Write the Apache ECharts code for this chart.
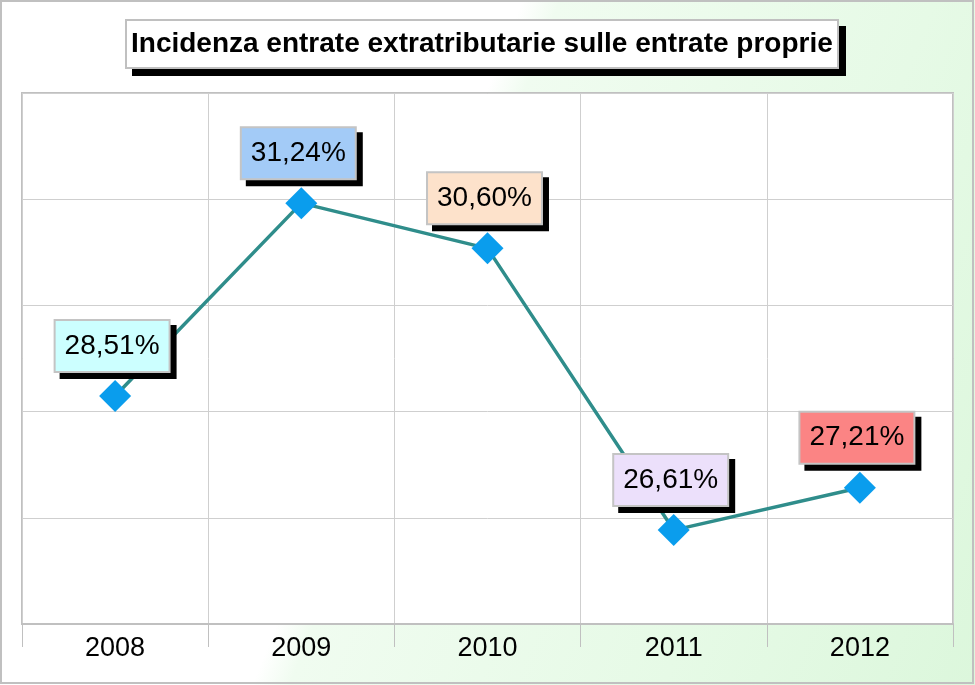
<!DOCTYPE html>
<html>
<head>
<meta charset="utf-8">
<script src="https://cdn.jsdelivr.net/npm/echarts@6/dist/echarts.min.js"></script>
<style>
  html, body { margin: 0; padding: 0; background: #fff; }
  #main { width: 975px; height: 685px; }
</style>
</head>
<body>
<div id="main"></div>
<script>
const years = ['2008', '2009', '2010', '2011', '2012'];
const values = [28.51, 31.24, 30.60, 26.61, 27.21];
const labelColors = ['#ccffff', '#a3cbf7', '#fde2cb', '#ece0fb', '#fb8484'];

const FONT = 'Liberation Sans, Arial, sans-serif';
const TITLE = 'Incidenza entrate extratributarie sulle entrate proprie';

const fmt = p => p.value.toFixed(2).replace('.', ',') + '%';

// label box look shared by the shadow copy and the real label
const labelBase = {
  show: true,
  position: 'top',
  distance: 9,
  formatter: fmt,
  fontFamily: FONT,
  fontSize: 28,
  lineHeight: 32,
  padding: [9, 9, 9, 9],
  borderWidth: 2
};

const chart = echarts.init(document.getElementById('main'));
chart.setOption({
  backgroundColor: new echarts.graphic.LinearGradient(0, 0, 1077, 425, [
    { offset: 0, color: '#ffffff' },
    { offset: 0.42, color: '#ffffff' },
    { offset: 0.45, color: '#f0fcf0' },
    { offset: 0.75, color: '#e6fae6' },
    { offset: 1, color: '#dcf7dc' }
  ], true),
  animation: false,
  title: [{
    // black drop shadow of the title box
    text: TITLE,
    left: 133,
    top: 27,
    padding: [9, 5],
    backgroundColor: '#000',
    borderColor: '#000',
    borderWidth: 2,
    textStyle: { fontFamily: FONT, fontSize: 28, fontWeight: 'bold', color: 'rgba(0,0,0,0)', lineHeight: 30 }
  }, {
    text: TITLE,
    left: 126,
    top: 20,
    padding: [9, 5],
    backgroundColor: '#ffffff',
    borderColor: '#c0c0c0',
    borderWidth: 2,
    textStyle: { fontFamily: FONT, fontSize: 28, fontWeight: 'bold', color: '#000', lineHeight: 30 }
  }],
  graphic: [{
    type: 'rect',
    shape: { x: 1, y: 1, width: 972, height: 682 },
    style: { fill: 'none', stroke: '#c0c0c0', lineWidth: 2 },
    silent: true
  }],
  grid: {
    left: 22,
    right: 22,
    top: 93,
    bottom: 61,
    show: true,
    backgroundColor: '#ffffff',
    borderColor: '#c0c0c0',
    borderWidth: 2
  },
  xAxis: {
    type: 'category',
    data: years,
    boundaryGap: true,
    axisLine: { lineStyle: { color: '#c0c0c0', width: 2 } },
    axisTick: { show: true, length: 23, interval: 0, lineStyle: { color: '#c0c0c0', width: 1 } },
    axisLabel: { color: '#000', fontFamily: FONT, fontSize: 27, margin: 11, interval: 0 },
    splitLine: { show: true, interval: 0, lineStyle: { color: '#cfcfcf', width: 1 } }
  },
  yAxis: [{
    type: 'value',
    min: 25.28,
    max: 32.80,
    show: false,
    splitLine: { show: false }
  }, {
    type: 'value',
    min: 0,
    max: 5,
    interval: 1,
    axisLine: { show: false },
    axisTick: { show: false },
    axisLabel: { show: false },
    splitLine: { show: true, lineStyle: { color: '#cfcfcf', width: 1 } }
  }],
  series: [{
    type: 'line',
    yAxisIndex: 0,
    data: values,
    symbol: 'diamond',
    symbolSize: 32,
    itemStyle: { color: '#0a9ded' },
    lineStyle: { color: '#2f8d8b', width: 3.5 },
    z: 2
  }, {
    // shadow boxes behind the value labels
    type: 'line',
    yAxisIndex: 0,
    data: values,
    symbol: 'diamond',
    symbolSize: 32,
    itemStyle: { color: 'rgba(0,0,0,0)', borderWidth: 0 },
    lineStyle: { width: 0, color: 'rgba(0,0,0,0)' },
    silent: true,
    z: 3,
    label: Object.assign({}, labelBase, {
      offset: [3, 6],
      color: 'rgba(0,0,0,0)',
      backgroundColor: '#000',
      borderColor: '#000'
    })
  }, {
    type: 'line',
    yAxisIndex: 0,
    data: values.map((v, i) => ({ value: v, label: { backgroundColor: labelColors[i] } })),
    symbol: 'diamond',
    symbolSize: 32,
    itemStyle: { color: 'rgba(0,0,0,0)', borderWidth: 0 },
    lineStyle: { width: 0, color: 'rgba(0,0,0,0)' },
    silent: true,
    z: 4,
    label: Object.assign({}, labelBase, {
      offset: [-3, 0],
      color: '#000',
      borderColor: '#c4c4c4'
    })
  }]
});
</script>
</body>
</html>
